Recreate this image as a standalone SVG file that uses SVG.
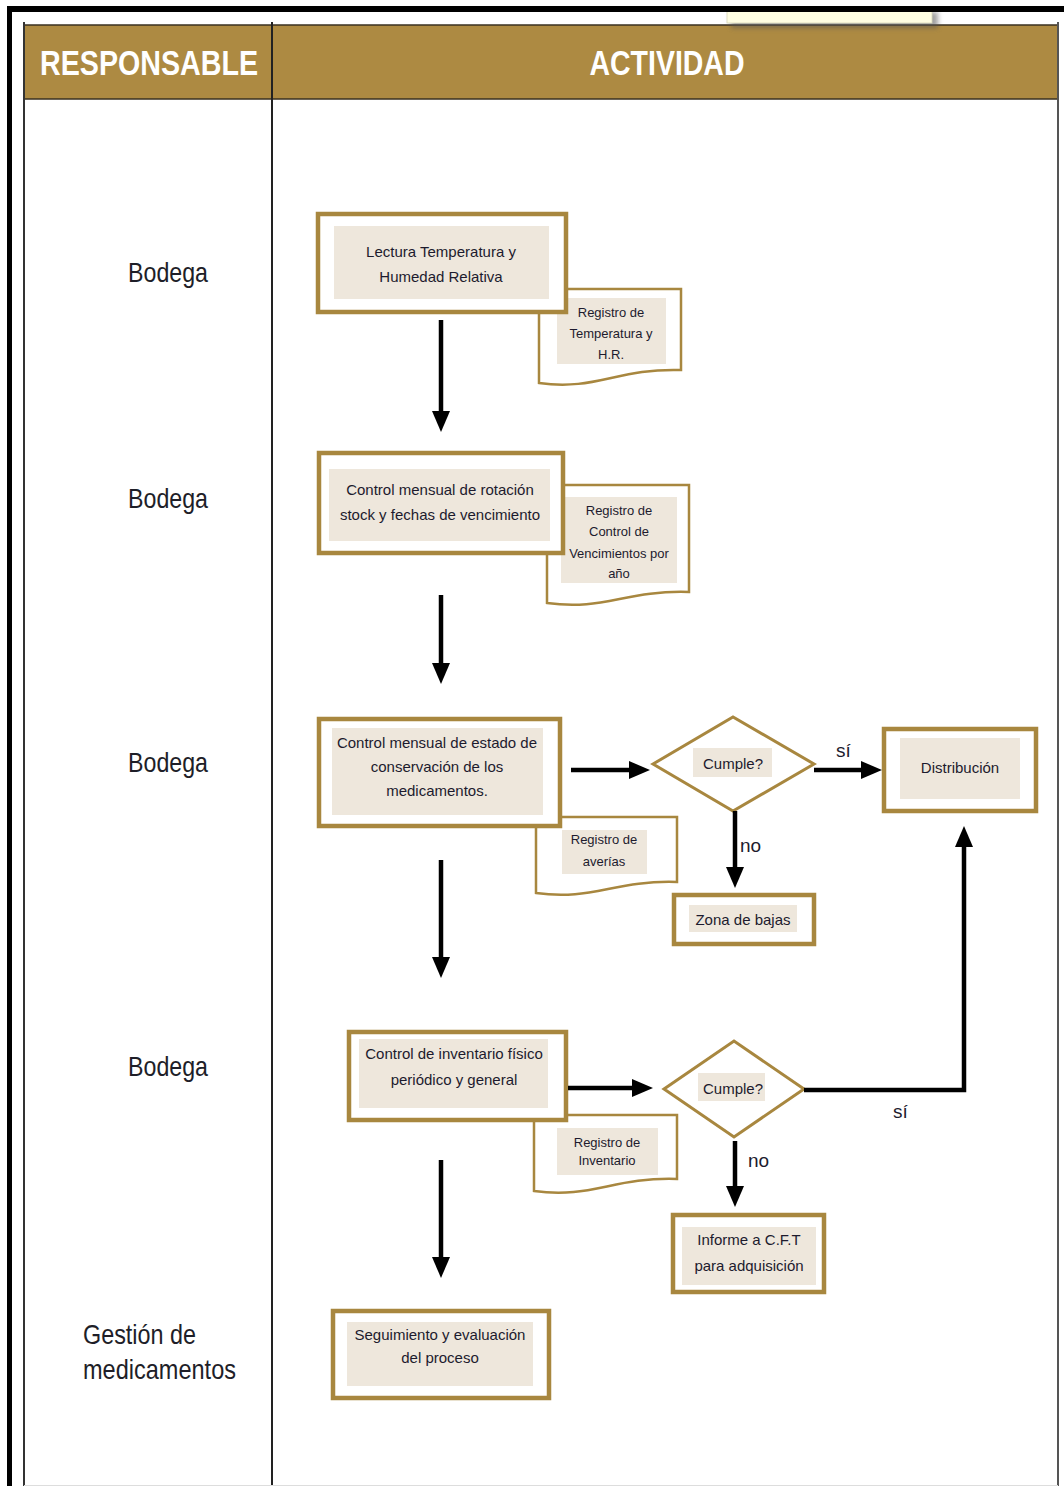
<svg xmlns="http://www.w3.org/2000/svg" width="1064" height="1486" viewBox="0 0 1064 1486">
  <style>
    .box { fill: #ffffff; stroke: #A8873F; stroke-width: 4.5; }
    .dia { fill: #ffffff; stroke: #A8873F; stroke-width: 3; }
    .doc { fill: #ffffff; stroke: #A8873F; stroke-width: 2.5; }
    .pad { fill: #EEE7DC; }
    .t { font-family: "Liberation Sans", Arial, sans-serif; font-size: 15px; fill: #1d1b2e; text-anchor: middle; }
    .ts { font-family: "Liberation Sans", Arial, sans-serif; font-size: 13px; fill: #1d1b2e; text-anchor: middle; }
    .lbl { font-family: "Liberation Sans", Arial, sans-serif; font-size: 19px; fill: #1d1b2e; }
    .resp { font-family: "Liberation Sans Narrow", "Liberation Sans", Arial, sans-serif; font-size: 28px; fill: #1e1e28; }
    .hdr { font-family: "Liberation Sans Narrow", "Liberation Sans", Arial, sans-serif; font-size: 35px; font-weight: bold; fill: #ffffff; text-anchor: middle; }
    .wire { fill: none; stroke: #000000; stroke-width: 4.5; marker-end: url(#head); }
  </style>
  <defs>
    <marker id="head" viewBox="0 0 21 18" refX="9" refY="9" markerWidth="21" markerHeight="18" markerUnits="userSpaceOnUse" orient="auto">
      <path d="M0,0 L21,9 L0,18 Z" fill="#000000"/>
    </marker>
    <filter id="soft" x="-20%" y="-50%" width="140%" height="200%">
      <feGaussianBlur stdDeviation="2.5"/>
    </filter>
  </defs>

  <!-- page background -->
  <rect x="0" y="0" width="1064" height="1486" fill="#ffffff"/>

  <!-- table frame -->
  <g id="table">
    <rect x="24" y="25" width="1034" height="74" fill="#AD8A42" stroke="#3a3020" stroke-width="1.5"/>
    <line x1="24" y1="22" x2="24" y2="1486" stroke="#333333" stroke-width="2"/>
    <line x1="272" y1="22" x2="272" y2="1486" stroke="#222222" stroke-width="2"/>
    <line x1="1058" y1="22" x2="1058" y2="1486" stroke="#555555" stroke-width="2"/>
    <line x1="24" y1="1485.5" x2="1058" y2="1485.5" stroke="#dddddd" stroke-width="1"/>
    <text class="hdr" x="149" y="75" textLength="218" lengthAdjust="spacingAndGlyphs">RESPONSABLE</text>
    <text class="hdr" x="667" y="75" textLength="155" lengthAdjust="spacingAndGlyphs">ACTIVIDAD</text>
  </g>

  <!-- sticky note peeking over the header -->
  <g id="note">
    <rect x="731" y="12" width="207" height="16" fill="#555555" opacity="0.55" filter="url(#soft)"/>
    <rect x="727" y="8" width="205" height="15" fill="#FFFEE2" stroke="#d8d6b8" stroke-width="0.8"/>
  </g>

  <!-- outer black border -->
  <g id="border">
    <rect x="7" y="6" width="1057" height="6" fill="#000000"/>
    <rect x="7" y="6" width="5" height="1480" fill="#000000"/>
  </g>

  <!-- responsible column -->
  <g id="responsables">
    <text class="resp" x="128" y="282" textLength="80" lengthAdjust="spacingAndGlyphs">Bodega</text>
    <text class="resp" x="128" y="508" textLength="80" lengthAdjust="spacingAndGlyphs">Bodega</text>
    <text class="resp" x="128" y="772" textLength="80" lengthAdjust="spacingAndGlyphs">Bodega</text>
    <text class="resp" x="128" y="1076" textLength="80" lengthAdjust="spacingAndGlyphs">Bodega</text>
    <text class="resp" x="83" y="1344" textLength="113" lengthAdjust="spacingAndGlyphs">Gestión de</text>
    <text class="resp" x="83" y="1379" textLength="153" lengthAdjust="spacingAndGlyphs">medicamentos</text>
  </g>

  <!-- record documents (drawn under the activity boxes) -->
  <g id="doc-registro-temperatura">
    <path class="doc" d="M539,289 H681 V370 C617,368 596,391 539,383 Z"/>
    <rect class="pad" x="557" y="298" width="109" height="66"/>
    <text class="ts" x="611" y="317">Registro de</text>
    <text class="ts" x="611" y="338">Temperatura y</text>
    <text class="ts" x="611" y="359">H.R.</text>
  </g>
  <g id="doc-registro-vencimientos">
    <path class="doc" d="M547,485 H689 V592 C625,590 604,611 547,603 Z"/>
    <rect class="pad" x="561" y="497" width="116" height="86"/>
    <text class="ts" x="619" y="515">Registro de</text>
    <text class="ts" x="619" y="536">Control de</text>
    <text class="ts" x="619" y="558">Vencimientos por</text>
    <text class="ts" x="619" y="578">año</text>
  </g>
  <g id="doc-registro-averias">
    <path class="doc" d="M536,817 H677 V882 C614,880 592,901 536,893 Z"/>
    <rect class="pad" x="562" y="830" width="85" height="44"/>
    <text class="ts" x="604" y="844">Registro de</text>
    <text class="ts" x="604" y="866">averías</text>
  </g>
  <g id="doc-registro-inventario">
    <path class="doc" d="M534,1115 H677 V1179 C613,1177 591,1199 534,1191 Z"/>
    <rect class="pad" x="557" y="1128" width="101" height="47"/>
    <text class="ts" x="607" y="1147">Registro de</text>
    <text class="ts" x="607" y="1165">Inventario</text>
  </g>

  <!-- activity boxes -->
  <g id="lectura">
    <rect class="box" x="318" y="214" width="248" height="98"/>
    <rect class="pad" x="334" y="226" width="215" height="73"/>
    <text class="t" x="441" y="257">Lectura Temperatura y</text>
    <text class="t" x="441" y="282">Humedad Relativa</text>
  </g>
  <g id="control-rotacion">
    <rect class="box" x="319" y="453" width="244" height="100"/>
    <rect class="pad" x="329" y="469" width="221" height="72"/>
    <text class="t" x="440" y="495">Control mensual de rotación</text>
    <text class="t" x="440" y="520">stock y fechas de vencimiento</text>
  </g>
  <g id="control-conservacion">
    <rect class="box" x="319" y="719" width="241" height="107"/>
    <rect class="pad" x="332" y="728" width="211" height="87"/>
    <text class="t" x="437" y="748">Control mensual de estado de</text>
    <text class="t" x="437" y="772">conservación de los</text>
    <text class="t" x="437" y="796">medicamentos.</text>
  </g>
  <g id="cumple-1">
    <polygon class="dia" points="653,764 733,717 814,764 733,811"/>
    <rect class="pad" x="693" y="748" width="79" height="29"/>
    <text class="t" x="733" y="769">Cumple?</text>
  </g>
  <g id="distribucion">
    <rect class="box" x="884" y="729" width="152" height="82"/>
    <rect class="pad" x="900" y="738" width="120" height="61"/>
    <text class="t" x="960" y="773">Distribución</text>
  </g>
  <g id="zona-bajas">
    <rect class="box" x="674" y="895" width="140" height="49"/>
    <rect class="pad" x="689" y="905" width="108" height="27"/>
    <text class="t" x="743" y="925">Zona de bajas</text>
  </g>
  <g id="control-inventario">
    <rect class="box" x="349" y="1032" width="217" height="88"/>
    <rect class="pad" x="359" y="1039" width="189" height="69"/>
    <text class="t" x="454" y="1059">Control de inventario físico</text>
    <text class="t" x="454" y="1085">periódico y general</text>
  </g>
  <g id="cumple-2">
    <polygon class="dia" points="664,1089 734,1041 804,1089 734,1137"/>
    <rect class="pad" x="698" y="1073" width="67" height="28"/>
    <text class="t" x="733" y="1094">Cumple?</text>
  </g>
  <g id="informe-cft">
    <rect class="box" x="673" y="1215" width="151" height="77"/>
    <rect class="pad" x="682" y="1227" width="134" height="58"/>
    <text class="t" x="749" y="1245">Informe a C.F.T</text>
    <text class="t" x="749" y="1271">para adquisición</text>
  </g>
  <g id="seguimiento">
    <rect class="box" x="333" y="1311" width="216" height="87"/>
    <rect class="pad" x="347" y="1322" width="186" height="64"/>
    <text class="t" x="440" y="1340">Seguimiento y evaluación</text>
    <text class="t" x="440" y="1363">del proceso</text>
  </g>

  <!-- connectors -->
  <g id="connectors">
    <path class="wire" d="M441,320 V420"/>
    <path class="wire" d="M441,595 V672"/>
    <path class="wire" d="M441,860 V966"/>
    <path class="wire" d="M441,1160 V1266"/>
    <path class="wire" d="M571,770 H638"/>
    <path class="wire" d="M814,770 H870"/>
    <path class="wire" d="M735,811 V876"/>
    <path class="wire" d="M568,1088 H641"/>
    <path class="wire" d="M735,1141 V1195"/>
    <path class="wire" d="M804,1090 H964 V838" stroke-linejoin="miter"/>
    <text class="lbl" x="836" y="757">sí</text>
    <text class="lbl" x="740" y="852">no</text>
    <text class="lbl" x="893" y="1118">sí</text>
    <text class="lbl" x="748" y="1167">no</text>
  </g>
</svg>
